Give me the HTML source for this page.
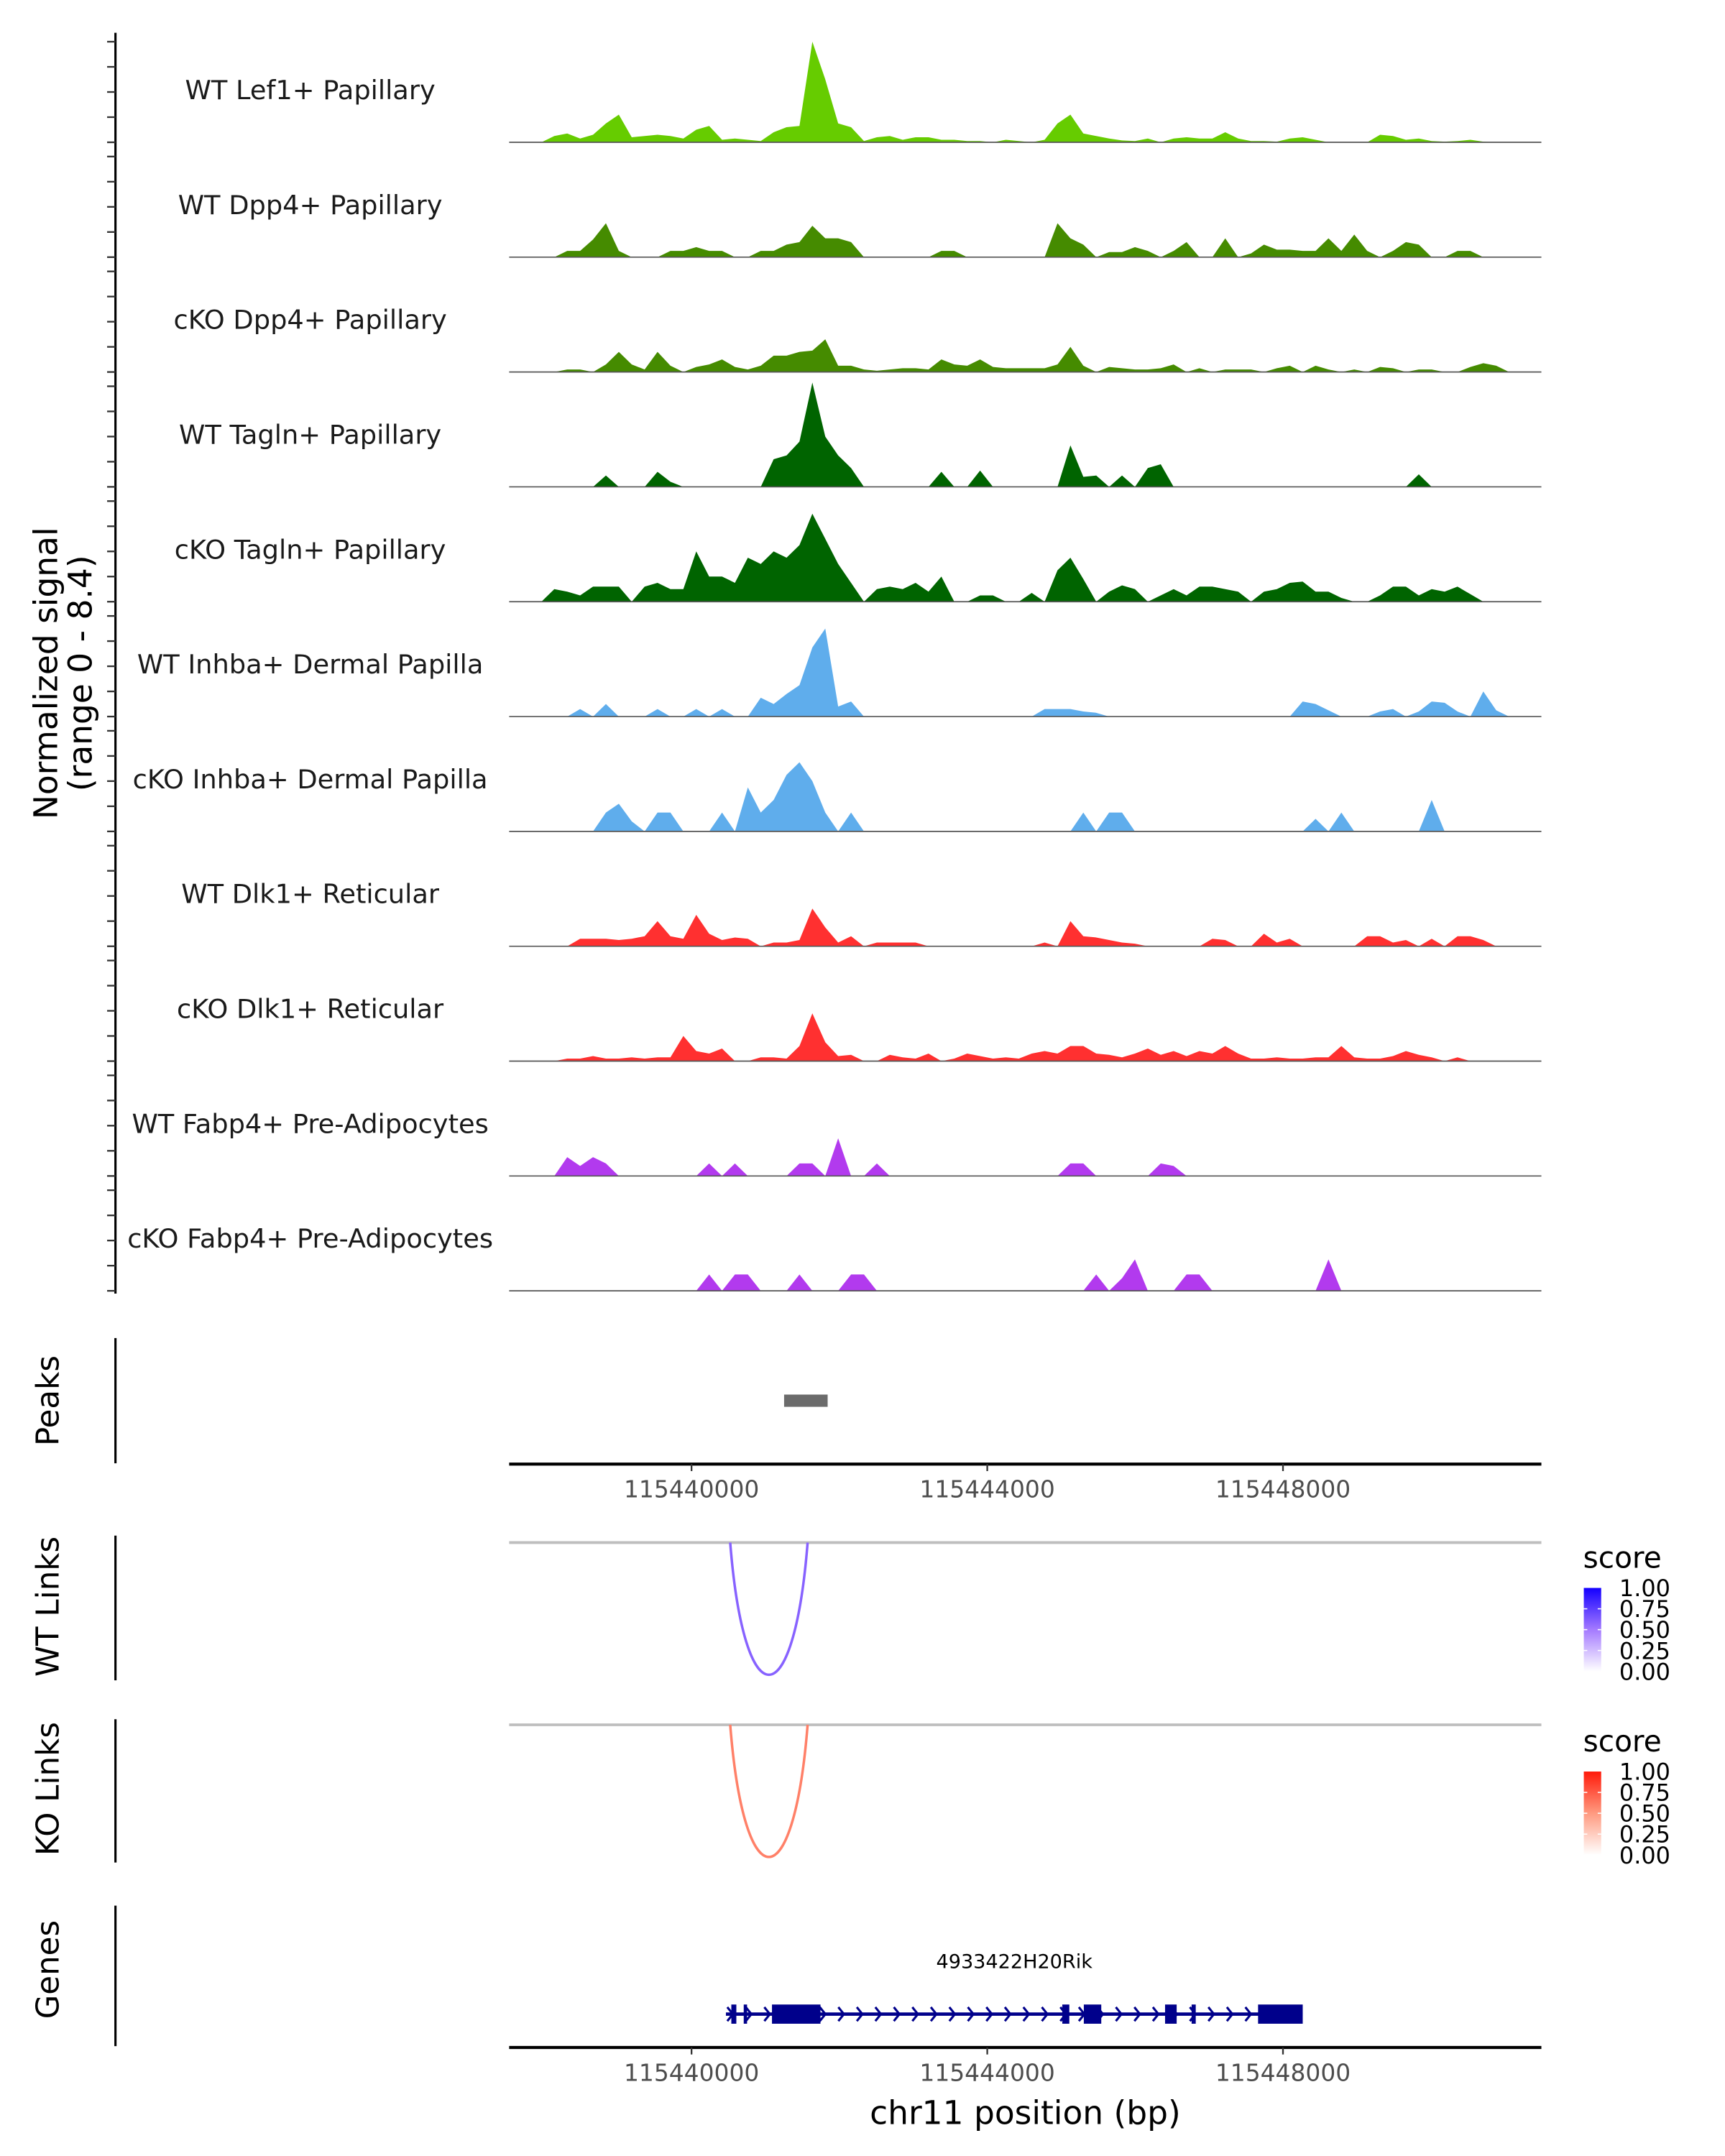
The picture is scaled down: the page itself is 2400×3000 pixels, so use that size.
<!DOCTYPE html>
<html><head><meta charset="utf-8"><title>Coverage plot</title>
<style>html,body{margin:0;padding:0;background:#fff}svg{display:block}text{font-family:"DejaVu Sans","Liberation Sans",sans-serif}</style>
</head><body>
<svg id="chart" xmlns="http://www.w3.org/2000/svg" width="2400" height="3000" viewBox="0 0 1240 1550">
<rect x="0" y="0" width="1240" height="1550" fill="#fff"/>
<defs>
<linearGradient id="gradWT" x1="0" y1="1" x2="0" y2="0"><stop offset="0" stop-color="#ffffff"/><stop offset="0.5" stop-color="#a47aff"/><stop offset="1" stop-color="#1400ff"/></linearGradient>
<linearGradient id="gradKO" x1="0" y1="1" x2="0" y2="0"><stop offset="0" stop-color="#ffffff"/><stop offset="0.5" stop-color="#ff9a80"/><stop offset="1" stop-color="#ff1a0a"/></linearGradient>
</defs>
<g id="g-tracks"></g>
<g id="g-lower"></g>
</svg>
<script>
// ---- data ----
const regionStart = 115437533;
const regionEnd = 115451495;
const binCount = 80;
const trackNames = ["WT Lef1+ Papillary","WT Dpp4+ Papillary","cKO Dpp4+ Papillary","WT Tagln+ Papillary","cKO Tagln+ Papillary","WT Inhba+ Dermal Papilla","cKO Inhba+ Dermal Papilla","WT Dlk1+ Reticular","cKO Dlk1+ Reticular","WT Fabp4+ Pre-Adipocytes","cKO Fabp4+ Pre-Adipocytes"];
const trackColors = ["#66cc00","#458b00","#458b00","#006400","#006400","#5fadec","#5fadec","#ff3030","#ff3030","#b23aee","#b23aee"];
const sigLef1WT = [0,0,0,.5,.7,.3,.6,1.5,2.2,.4, .5,.6,.5,.3,1.0,1.3,.2,.3,.2,.1, .8,1.2,1.3,8.0,5.0,1.5,1.2,.1,.4,.5, .2,.4,.4,.2,.2,.1,.1,0,.2,.1, 0,.2,1.5,2.2,.7,.5,.3,.15,.1,.3, 0,.3,.4,.3,.3,.8,.3,.1,.1,.05, .3,.4,.2,0,0,0,0,.6,.5,.2, .3,.1,.05,.1,.2,.05,0,0,0,0];
const sigDpp4WT = [0,0,0,0,.5,.5,1.4,2.7,.5,0, 0,0,.5,.5,.8,.5,.5,0,0,.5, .5,1.0,1.2,2.5,1.5,1.5,1.2,0,0,0, 0,0,0,.5,.5,0,0,0,0,0, 0,0,2.7,1.5,1.0,0,.4,.4,.8,.5, 0,.5,1.2,0,0,1.5,0,.3,1.0,.6, .6,.5,.5,1.5,.5,1.8,.5,0,.5,1.2, 1.0,0,0,.5,.5,0,0,0,0,0];
const sigDpp4KO = [0,0,0,0,.2,.2,0,.6,1.6,.6, .2,1.6,.5,0,.4,.6,1.0,.4,.2,.5, 1.3,1.3,1.6,1.7,2.6,.5,.5,.2,.1,.2, .3,.3,.2,1.0,.6,.5,1.0,.4,.3,.3, .3,.3,.6,2.0,.5,0,.4,.3,.2,.2, .3,.6,0,.3,0,.2,.2,.2,0,.3, .5,0,.5,.2,0,.2,0,.4,.3,0, .2,.2,0,0,.4,.7,.5,0,0,0];
const sigTaglnWT = [0,0,0,0,0,0,0,.9,0,0, 0,1.2,.4,0,0,0,0,0,0,0, 2.2,2.5,3.6,8.3,4.0,2.5,1.5,0,0,0, 0,0,0,1.2,0,0,1.3,0,0,0, 0,0,0,3.3,.8,.9,0,.9,0,1.5, 1.8,0,0,0,0,0,0,0,0,0, 0,0,0,0,0,0,0,0,0,0, 1.0,0,0,0,0,0,0,0,0,0];
const sigTaglnKO = [0,0,0,1.0,.8,.5,1.2,1.2,1.2,0, 1.2,1.5,1.0,1.0,4.0,2.0,2.0,1.5,3.5,3.0, 4.0,3.5,4.5,7.0,5.0,3.0,1.5,0,1.0,1.2, 1.0,1.5,.8,2.0,0,0,.5,.5,0,0, .7,0,2.5,3.5,1.8,0,.8,1.3,1.0,0, .5,1.0,.5,1.2,1.2,1.0,.8,0,.8,1.0, 1.5,1.6,.8,.8,.3,0,0,.5,1.2,1.2, .5,1.0,.8,1.2,.6,0,0,0,0,0];
const sigInhbaWT = [0,0,0,0,0,.6,0,1.0,0,0, 0,.6,0,0,.6,0,.6,0,0,1.5, 1.0,1.8,2.5,5.5,7.0,.8,1.2,0,0,0, 0,0,0,0,0,0,0,0,0,0, 0,.6,.6,.6,.4,.3,0,0,0,0, 0,0,0,0,0,0,0,0,0,0, 0,1.2,1.0,.5,0,0,0,.4,.6,0, .4,1.2,1.1,.4,0,2.0,.5,0,0,0];
const sigInhbaKO = [0,0,0,0,0,0,0,1.5,2.2,.8, 0,1.5,1.5,0,0,0,1.5,0,3.5,1.5, 2.5,4.5,5.5,4.0,1.5,0,1.5,0,0,0, 0,0,0,0,0,0,0,0,0,0, 0,0,0,0,1.5,0,1.5,1.5,0,0, 0,0,0,0,0,0,0,0,0,0, 0,0,1.0,0,1.5,0,0,0,0,0, 0,2.5,0,0,0,0,0,0,0,0];
const sigDlk1WT = [0,0,0,0,0,.6,.6,.6,.5,.6, .8,2.0,.8,.6,2.5,1.0,.5,.7,.6,0, .3,.3,.5,3.0,1.5,.3,.8,0,.3,.3, .3,.3,0,0,0,0,0,0,0,0, 0,.3,0,2.0,.8,.7,.5,.3,.2,0, 0,0,0,0,.6,.5,0,0,1.0,.3, .6,0,0,0,0,0,.8,.8,.3,.5, 0,.6,0,.8,.8,.5,0,0,0,0];
const sigDlk1KO = [0,0,0,0,.2,.2,.4,.2,.2,.3, .2,.3,.3,2.0,.8,.6,1.0,0,0,.3, .3,.2,1.2,3.8,1.5,.4,.5,0,0,.5, .3,.2,.6,0,.2,.6,.4,.2,.3,.2, .6,.8,.6,1.2,1.2,.6,.5,.3,.6,1.0, .5,.8,.4,.8,.6,1.2,.6,.2,.2,.3, .2,.2,.3,.3,1.2,.3,.2,.2,.4,.8, .5,.3,0,.3,0,0,0,0,0,0];
const sigFabp4WT = [0,0,0,0,1.5,.8,1.5,1.0,0,0, 0,0,0,0,0,1.0,0,1.0,0,0, 0,0,1.0,1.0,0,3.0,0,0,1.0,0, 0,0,0,0,0,0,0,0,0,0, 0,0,0,1.0,1.0,0,0,0,0,0, 1.0,.8,0,0,0,0,0,0,0,0, 0,0,0,0,0,0,0,0,0,0, 0,0,0,0,0,0,0,0,0,0];
const sigFabp4KO = [0,0,0,0,0,0,0,0,0,0, 0,0,0,0,0,1.3,0,1.3,1.3,0, 0,0,1.3,0,0,0,1.3,1.3,0,0, 0,0,0,0,0,0,0,0,0,0, 0,0,0,0,0,1.3,0,1.0,2.5,0, 0,0,1.3,1.3,0,0,0,0,0,0, 0,0,0,2.5,0,0,0,0,0,0, 0,0,0,0,0,0,0,0,0,0];
const peakStarts = [115441252];
const peakEnds = [115441841];
const wtLinkStarts = [115440523];
const wtLinkEnds = [115441570];
const wtLinkScores = [0.6];
const koLinkStarts = [115440523];
const koLinkEnds = [115441570];
const koLinkScores = [0.6];
const geneName = "4933422H20Rik";
const geneStart = 115440465;
const geneEnd = 115448267;
const exonStarts = [115440538,115440706,115441088,115445015,115445306,115446405,115446764,115447663];
const exonEnds = [115440606,115440751,115441744,115445110,115445542,115446562,115446820,115448267];
const xTicks = [115440000,115444000,115448000];
const xTickLabels = ["115440000","115444000","115448000"];
const legendTicks = [1.00,0.75,0.50,0.25,0.00];
const legendLabels = ["1.00","0.75","0.50","0.25","0.00"];
const signalMax = 8.4;

const signals = [sigLef1WT,sigDpp4WT,sigDpp4KO,sigTaglnWT,sigTaglnKO,sigInhbaWT,sigInhbaKO,sigDlk1WT,sigDlk1KO,sigFabp4WT,sigFabp4KO];

// ---- layout / scales ----
const NS = "http://www.w3.org/2000/svg";
const PX0 = 366, PX1 = 1108;
const TRACK0 = 102.3, TRACK_STEP = 82.57, UNIT = 9.04;
function xScale(bp){ return PX0 + (bp - regionStart) / (regionEnd - regionStart) * (PX1 - PX0); }
function yScale(v, base){ return base - v * UNIT; }
function mk(tag, attrs, parent){ const e = document.createElementNS(NS, tag); for (const k in attrs) e.setAttribute(k, attrs[k]); parent.appendChild(e); return e; }
function hex(c){ return [parseInt(c.slice(1,3),16),parseInt(c.slice(3,5),16),parseInt(c.slice(5,7),16)]; }
function interp(stops, s){
  const t = s <= 0.5 ? s/0.5 : (s-0.5)/0.5;
  const a = hex(s <= 0.5 ? stops[0] : stops[1]), b = hex(s <= 0.5 ? stops[1] : stops[2]);
  return "rgb(" + a.map((v,i)=>Math.round(v + (b[i]-v)*t)).join(",") + ")";
}
const wtStops = ["#ffffff","#a47aff","#1400ff"];
const koStops = ["#ffffff","#ff9a80","#ff1a0a"];

const gT = document.getElementById("g-tracks");
const gL = document.getElementById("g-lower");
const binBp = (regionEnd - regionStart) / binCount;

// left axis
let el = mk("line", {x1:83, y1:23.6, x2:83, y2:930, stroke:"#000", "stroke-width":1.6}, gT);



signals.forEach((sig, k) => {
  const base = TRACK0 + k * TRACK_STEP;
  const g = mk("g", {}, gT);
  
  
  for (let t = 0; t <= 8; t += 2) {
    const tk = mk("line", {x1:77, x2:83, y1:yScale(t, base), y2:yScale(t, base), stroke:"#333", "stroke-width":1.2}, g);
    
    
  }
  const lab = mk("text", {x:223, y:base - 31, "text-anchor":"middle", "font-size":19, fill:"#1a1a1a"}, g);
  lab.textContent = trackNames[k];
  
  
  let pts = [[xScale(regionStart), base]];
  sig.forEach((v, i) => { pts.push([xScale(regionStart + (i + 0.5) * binBp), yScale(v, base)]); });
  pts.push([xScale(regionEnd), base]);
  const area = mk("polygon", {points: pts.map(p => p[0].toFixed(2) + "," + p[1].toFixed(2)).join(" "), fill: trackColors[k]}, g);
  
  
  const bl = mk("line", {x1:PX0, x2:PX1, y1:base, y2:base, stroke:"#555", "stroke-width":0.9}, g);
  
  
});

// y title
el = mk("text", {transform:"translate(41,484) rotate(-90)", "text-anchor":"middle", "font-size":23.5, fill:"#000"}, gT);
el.textContent = "Normalized signal";


el = mk("text", {transform:"translate(66,484) rotate(-90)", "text-anchor":"middle", "font-size":23.5, fill:"#000"}, gT);
el.textContent = "(range 0 - 8.4)";



function panelLabel(txt, cy, y1, y2, name){
  let t = mk("text", {transform:"translate(42," + cy + ") rotate(-90)", "text-anchor":"middle", "font-size":22.5, fill:"#000"}, gL);
  t.textContent = txt;
  
  
  let l = mk("line", {x1:83, x2:83, y1:y1, y2:y2, stroke:"#000", "stroke-width":1.6}, gL);
  
  
}
function xAxis(y, name){
  let l = mk("line", {x1:PX0, x2:PX1, y1:y, y2:y, stroke:"#000", "stroke-width":2.2}, gL);
  
  
  xTicks.forEach((bp, i) => {
    const x = xScale(bp);
    let tk = mk("line", {x1:x, x2:x, y1:y, y2:y + 5, stroke:"#333", "stroke-width":1.2}, gL);
    
    
    let tl = mk("text", {x:x, y:y + 24, "text-anchor":"middle", "font-size":17, fill:"#4d4d4d"}, gL);
    tl.textContent = xTickLabels[i];
    
    
  });
}

// Peaks
panelLabel("Peaks", 1007, 962, 1052, "peaks");
peakStarts.forEach((s, i) => {
  const r = mk("rect", {x:xScale(s), y:1002.6, width:xScale(peakEnds[i]) - xScale(s), height:8.8, fill:"#6b6b6b"}, gL);
  
  
});
xAxis(1052.6, 'peaks-x-axis');

// Links
function links(starts, ends, scores, lineY, stops, name){
  let gl = mk("line", {x1:PX0, x2:PX1, y1:lineY, y2:lineY, stroke:"#bebebe", "stroke-width":2}, gL);
  
  
  starts.forEach((s, i) => {
    const x1 = xScale(s), x2 = xScale(ends[i]);
    const w = x2 - x1, cy = lineY + 126.7;
    const p = mk("path", {d:"M" + x1 + "," + lineY + " C" + (x1 + w*0.18) + "," + cy + " " + (x2 - w*0.18) + "," + cy + " " + x2 + "," + lineY, fill:"none", stroke:interp(stops, scores[i]), "stroke-width":1.8}, gL);
    
    
  });
}
function legend(topY, grad, name){
  let t = mk("text", {x:1138, y:topY - 14.6, "font-size":21, fill:"#000"}, gL);
  t.textContent = "score";
  
  
  let r = mk("rect", {x:1138.5, y:topY, width:12.5, height:60, fill:"url(#" + grad + ")"}, gL);
  
  
  legendTicks.forEach((v, i) => {
    const y = topY + (1 - v) * 60;
    if (v > 0 && v < 1) {
      let a = mk("line", {x1:1138.5, x2:1141, y1:y, y2:y, stroke:"#fff", "stroke-width":0.8}, gL);
      
      
      let b = mk("line", {x1:1148.5, x2:1151, y1:y, y2:y, stroke:"#fff", "stroke-width":0.8}, gL);
      
      
    }
    let l = mk("text", {x:1164, y:y + 6, "font-size":16.5, fill:"#000"}, gL);
    l.textContent = legendLabels[i];
    
    
  });
}
panelLabel("WT Links", 1155, 1104, 1208, "wt-links");
links(wtLinkStarts, wtLinkEnds, wtLinkScores, 1109, wtStops, "wt-link");
legend(1141.6, "gradWT", "wt");
panelLabel("KO Links", 1286, 1236, 1339, "ko-links");
links(koLinkStarts, koLinkEnds, koLinkScores, 1240, koStops, "ko-link");
legend(1273.6, "gradKO", "ko");

// Genes
panelLabel("Genes", 1416, 1370, 1471, "genes");
const GY = 1448;
el = mk("text", {x:(xScale(geneStart) + xScale(geneEnd)) / 2, y:1415, "text-anchor":"middle", "font-size":14, fill:"#000"}, gL);
el.textContent = geneName;


el = mk("line", {x1:xScale(geneStart), x2:xScale(geneEnd), y1:GY, y2:GY, stroke:"#00008b", "stroke-width":2.4}, gL);


const chevStep = 13.3;
for (let x = xScale(geneStart) + 4; x < xScale(geneEnd) - 4; x += chevStep) {
  const c = mk("polyline", {points:(x-3) + "," + (GY-5) + " " + (x+1) + "," + GY + " " + (x-3) + "," + (GY+5), fill:"none", stroke:"#00008b", "stroke-width":1.6}, gL);
  
  
}
exonStarts.forEach((s, i) => {
  const x1 = xScale(s), x2 = xScale(exonEnds[i]);
  const r = mk("rect", {x:x1, y:GY - 6.9, width:Math.max(1.2, x2 - x1), height:13.8, fill:"#00008b"}, gL);
  
  
});
xAxis(1472, 'bottom-x-axis');
el = mk("text", {x:737, y:1527, "text-anchor":"middle", "font-size":23.5, fill:"#000"}, gL);
el.textContent = "chr11 position (bp)";


</script>
</body></html>
